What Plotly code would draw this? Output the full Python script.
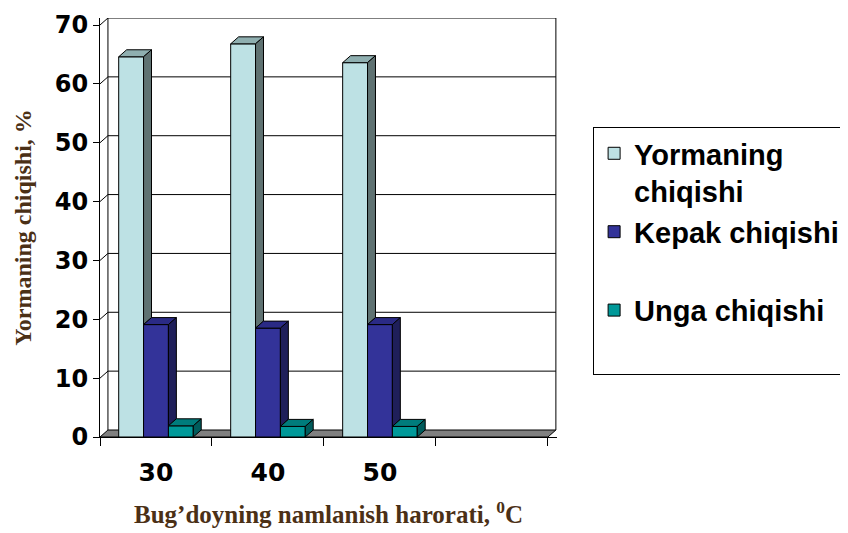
import plotly.graph_objects as go

# ---- data ----
categories = ["30", "40", "50"]
cat_pos = [0, 1, 2]
series_names = ["Yormaning<br>chiqishi", "Kepak chiqishi<br> ", "Unga chiqishi<br> "]
yormaning = [64.6, 66.8, 63.6]
kepak = [19.1, 18.5, 19.1]
unga = [1.9, 1.8, 1.8]
y_ticks = [0, 10, 20, 30, 40, 50, 60, 70]

# ---- style ----
front_colors = ["#BDE1E4", "#333399", "#009999"]
top_colors = ["#8FAFB0", "#2A2A85", "#007C7C"]
side_colors = ["#5F7272", "#1F1F5A", "#005C5C"]
N_CAT = 4           # three filled categories plus one empty slot
DX = 0.071          # depth offset (x units)
DY = 1.19           # depth offset (y units)
BW = 0.222          # bar width
OFFS = [-0.333, -0.111, 0.111]
YMAX = 70

series = [yormaning, kepak, unga]
fig = go.Figure()

x_lo, x_hi = -0.5, N_CAT - 0.5

# front faces (real bars)
for i, vals in enumerate(series):
    fig.add_trace(go.Bar(
        x=cat_pos, y=vals, name=series_names[i],
        offset=OFFS[i], width=BW,
        marker=dict(color=front_colors[i], line=dict(color="black", width=1)),
    ))

# top and side faces computed from the data
for i, vals in enumerate(series):
    tx, ty, sx, sy = [], [], [], []
    for j, c in enumerate(cat_pos):
        x0 = c + OFFS[i]
        x1 = x0 + BW
        v = vals[j]
        tx += [x0, x0 + DX, x1 + DX, x1, x0, None]
        ty += [v, v + DY, v + DY, v, v, None]
        base = 0
        if i + 1 < len(series):
            base = min(series[i + 1][j], v)
        sx += [x1, x1 + DX, x1 + DX, x1, x1, None]
        sy += [base, base + DY, v + DY, v, base, None]
    fig.add_trace(go.Scatter(x=tx, y=ty, mode="lines", fill="toself",
                             fillcolor=top_colors[i], line=dict(color="black", width=1),
                             showlegend=False, hoverinfo="skip"))
    fig.add_trace(go.Scatter(x=sx, y=sy, mode="lines", fill="toself",
                             fillcolor=side_colors[i], line=dict(color="black", width=1),
                             showlegend=False, hoverinfo="skip"))

# back wall gridlines, wall edges and floor (behind bars)
shapes = []
for v in y_ticks[1:]:
    shapes.append(dict(type="path", xref="x", yref="y", layer="below",
                       path=f"M {x_lo},{v} L {x_lo+DX},{v+DY} L {x_hi+DX},{v+DY}",
                       line=dict(color="black", width=1)))
shapes.append(dict(type="path", xref="x", yref="y", layer="below",
                   path=f"M {x_lo+DX},{DY} L {x_lo+DX},{YMAX+DY}",
                   line=dict(color="black", width=1)))
shapes.append(dict(type="path", xref="x", yref="y", layer="below",
                   path=f"M {x_hi+DX},{DY} L {x_hi+DX},{YMAX+DY}",
                   line=dict(color="black", width=1)))
shapes.append(dict(type="path", xref="x", yref="y", layer="below",
                   path=f"M {x_lo},0 L {x_hi},0 L {x_hi+DX},{DY} L {x_lo+DX},{DY} Z",
                   fillcolor="#808080", line=dict(color="black", width=1)))

title_color = "#4B3016"
fig.update_layout(
    width=848, height=533,
    margin=dict(l=92, r=299, t=10, b=104, autoexpand=False),
    paper_bgcolor="white", plot_bgcolor="white",
    barmode="overlay",
    shapes=shapes,
    showlegend=True,
    legend=dict(x=1.079, y=0.74, xanchor="left", yanchor="top",
                bordercolor="black", borderwidth=1, bgcolor="white",
                font=dict(family="Liberation Sans", size=29, color="black", weight="bold"),
                valign="top", tracegroupgap=0),
    xaxis=dict(range=[x_lo, x_hi + DX + 0.01], tickmode="array", tickvals=cat_pos,
               ticktext=categories, ticks="", showgrid=False, zeroline=False,
               showline=True, linecolor="black", linewidth=1, ticklabelstandoff=13,
               tickfont=dict(family="DejaVu Sans", size=25, color="black", weight="bold"),
               minor=dict(tickmode="array", tickvals=[x_lo + k for k in range(N_CAT + 1)],
                          ticks="outside", ticklen=8, tickcolor="black", showgrid=False),
               title=dict(text="Bug\u2019doyning namlanish harorati, <sup>0</sup>C",
                          font=dict(family="Liberation Serif", size=25, color=title_color, weight="bold"),
                          standoff=19)),
    yaxis=dict(range=[0, YMAX + DY], tickmode="array", tickvals=y_ticks,
               ticks="outside", ticklen=6, tickcolor="black",
               showgrid=False, zeroline=False, showline=True, linecolor="black", linewidth=1,
               tickfont=dict(family="DejaVu Sans", size=24, color="black", weight="bold"),
               title=dict(text="Yormaning chiqishi, %",
                          font=dict(family="Liberation Serif", size=24, color=title_color, weight="bold"),
                          standoff=16)),
)

fig.write_html("out.html")
